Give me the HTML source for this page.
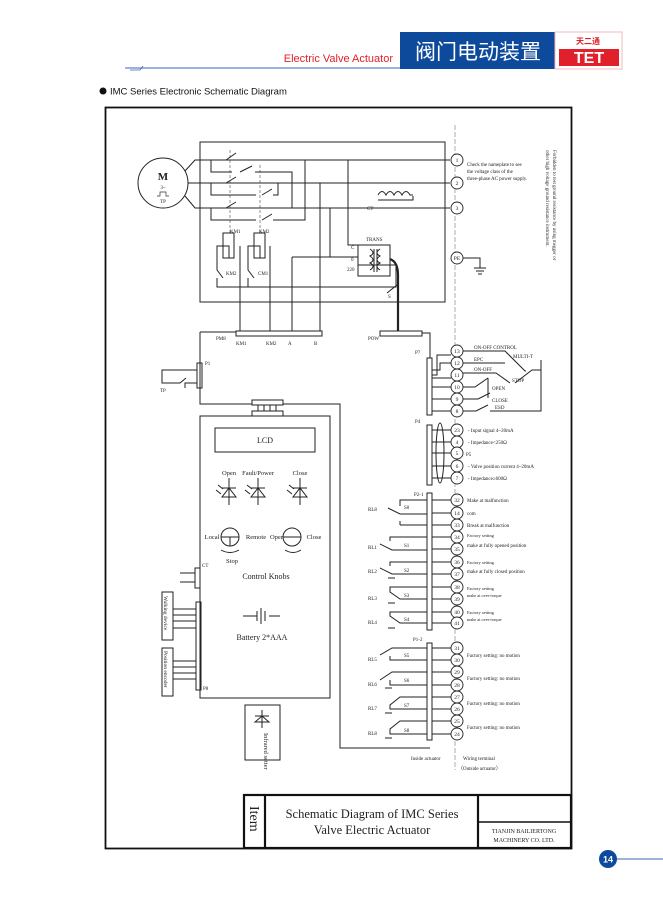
<!DOCTYPE html>
<html><head><meta charset="utf-8"><style>
html,body{margin:0;padding:0;background:#fff;}
svg{display:block}
text{font-family:"Liberation Serif",serif;fill:#222}
.s{font-family:"Liberation Sans","Noto Sans CJK SC",sans-serif}
</style></head><body>
<svg width="663" height="900" viewBox="0 0 663 900" xmlns="http://www.w3.org/2000/svg">
<line x1="125" y1="68" x2="400" y2="68" stroke="#3a66b0" stroke-width="1"/>
<path d="M130 70 L140 70 L143 66" stroke="#3a66b0" fill="none" stroke-width="0.8"/>
<text x="393" y="62" text-anchor="end" class="s" font-size="11" style="fill:#e0202a">Electric Valve Actuator</text>
<rect x="400" y="32" width="155" height="37" fill="#0d4a9c"/>
<text x="478" y="59" text-anchor="middle" class="s" font-size="21" style="fill:#fff">阀门电动装置</text>
<rect x="555" y="32" width="67" height="37" fill="#fff" stroke="#f2b9bd" stroke-width="1"/>
<text x="588" y="44" text-anchor="middle" class="s" font-size="8" font-weight="bold" style="fill:#e0202a">天二通</text>
<rect x="559" y="49" width="60" height="17" fill="#e0202a"/>
<text x="589" y="63" text-anchor="middle" class="s" font-size="16" font-weight="bold" style="fill:#fff">TET</text>
<circle cx="103" cy="91" r="3.5" fill="#111"/>
<text x="110" y="94.5" class="s" font-size="9.5" style="fill:#111">IMC Series Electronic Schematic Diagram</text>
<rect x="105.5" y="107.5" width="466" height="741" fill="none" stroke="#111" stroke-width="1.8"/>
<rect x="244" y="795" width="327" height="53" fill="none" stroke="#111" stroke-width="2.2"/>
<line x1="265" y1="795" x2="265" y2="848" stroke="#111" stroke-width="2.2"/>
<line x1="478" y1="795" x2="478" y2="848" stroke="#111" stroke-width="2.2"/>
<line x1="478" y1="822" x2="571" y2="822" stroke="#111" stroke-width="1.5"/>
<text transform="translate(250,806) rotate(90)" font-size="14">Item</text>
<text x="372" y="818" text-anchor="middle" font-size="12.5">Schematic Diagram of IMC Series</text>
<text x="372" y="834" text-anchor="middle" font-size="12.5">Valve Electric Actuator</text>
<text x="524" y="833" text-anchor="middle" font-size="6">TIANJIN BAILIERTONG</text>
<text x="524" y="842" text-anchor="middle" font-size="6">MACHINERY CO.   LTD.</text>
<circle cx="608" cy="859" r="9" fill="#0d4a9c"/>
<text x="608" y="862.5" text-anchor="middle" class="s" font-size="9" font-weight="bold" style="fill:#fff">14</text>
<line x1="617" y1="859" x2="663" y2="859" stroke="#3a66b0"/>

<g stroke="#222" stroke-width="1" fill="none">
<rect x="200" y="142" width="245" height="160"/>
<line x1="455" y1="125" x2="455" y2="770" stroke-dasharray="5,2" stroke="#777" stroke-width="0.6"/>
<circle cx="163" cy="183" r="25"/>
<path d="M185 171 L195 160 L450 160 M188 183 L450 183 M185 196 L195 208 L450 208"/>
<path d="M211 160 V172 H232 M240 172 L252 166 M255 172 H292 V208"/>
<path d="M211 183 V195 H256 M262 195 L272 189 M273 195 H278 V183"/>
<path d="M211 208 V220 H256 M262 220 L272 214 M273 220 H305 V160"/>
<path d="M226 160 L236 153 M226 183 L236 177 M226 208 L236 202"/>
<line x1="230" y1="150" x2="230" y2="233" stroke-dasharray="3,2" stroke-width="0.5"/>
<line x1="260" y1="165" x2="260" y2="233" stroke-dasharray="3,2" stroke-width="0.5"/>
<rect x="223" y="233" width="11" height="25"/><rect x="254" y="233" width="11" height="25"/>
<path d="M229 258 V246 H217 V270 L223 278 M217 278 V287 H396 V265 H358"/>
<path d="M240 246 V336 M260 258 V246 H248 V270 L254 278 M248 278 V287 M270 246 V336"/>
<path d="M348 160 V245 H358 M330 208 V257 H358 M320 183 V336 M292 257 H330 M292 257 V336"/>
<path d="M378 200 H413 V196 M378 195 Q382 188 386 195 Q390 188 394 195 Q398 188 402 195 Q406 188 410 195 L413 195"/>
<rect x="358" y="245" width="32" height="31"/>
<path d="M370 249 Q376 253 370 256 Q376 260 370 263 Q376 266 370 270 M380 249 Q374 253 380 256 Q374 260 380 263 Q374 266 380 270 M374 249 V272 M377 249 V272"/>
<path d="M390 259 Q398 262 398 275 V336" stroke-width="2.2"/>
<path d="M387 293 L397 285"/>
<path d="M462 258 H480 V268 M474 268 H486 M476 271 H484 M478 274 H482"/>
<rect x="236" y="331" width="86" height="5" fill="#fff"/>
<rect x="380" y="331" width="42" height="5" fill="#fff"/>
<path d="M200 332 H236 M422 333 H430 V358 M200 332 V404 H252 M283 404 H340 V748 H430"/>
<rect x="197" y="363" width="5" height="25"/>
<path d="M197 370 H162 V383 H180 L186 378 M185 388 V383 H197"/>
<rect x="252" y="400" width="31" height="5"/><rect x="252" y="411" width="31" height="5"/>
<path d="M258 405 V411 M264 405 V411 M270 405 V411 M276 405 V411"/>
<rect x="200" y="416" width="130" height="282"/>
<rect x="215" y="428" width="100" height="24"/>
<path d="M229 478 V505 M222 488 H236 M222 497 H236 L229 488 Z M258 478 V505 M251 488 H265 M251 497 H265 L258 488 Z M300 478 V505 M293 488 H307 M293 497 H307 L300 488 Z"/>
<path d="M218 485 L223 489 M216 490 L221 494 M247 485 L252 489 M245 490 L250 494 M289 485 L294 489 M287 490 L292 494"/>
<circle cx="230" cy="537" r="9"/><path d="M221 537 H239 M230 537 V546"/>
<circle cx="292" cy="537" r="9"/><path d="M283 537 H301"/>
<path d="M221 550 Q230 555 239 550 M285 550 Q293 555 301 550"/>
<rect x="195" y="568" width="5" height="20"/><path d="M180 573 H195 M180 582 H195"/>
<path d="M243 616 H257 M257 611 V621 M261 608 V624 M265 611 V621 M269 616 H280"/>
<rect x="196" y="602" width="5" height="88"/>
<rect x="162" y="592" width="11" height="48"/><rect x="162" y="648" width="11" height="48"/>
<path d="M173 609 H196 M173 615 H196 M173 621 H196 M173 628 H196 M173 661 H196 M173 667 H196 M173 673 H196 M173 679 H196"/>
<rect x="245" y="705" width="35" height="55"/>
<path d="M262 710 V728 M255 716 H269 M255 722 H269 L262 716 Z"/>
<rect x="427" y="358" width="5" height="57" fill="#fff"/>
<rect x="427" y="425" width="5" height="60" fill="#fff"/>
<rect x="427" y="493" width="5" height="137" fill="#fff"/>
<rect x="427" y="643" width="5" height="97" fill="#fff"/>
<path d="M432 375 H437 V355 H451 M432 370 H440 V363 H451 M432 378 H451 M432 387 H451 M432 399 H451 M432 411 H451"/>
<path d="M463 351 H505 L525 371 H526 M463 363 H505 M463 373 H496 L510 383 M515 383 L532 370 H541 M463 387 H475 L488 378 M488 378 L488 398 M463 399 H478 L490 393 M463 411 H476 L488 405 M490 411 H541 V360 M541 370 H536"/>
<path d="M432 430 H451 M432 442 H451 M432 453 H451 M432 466 H451 M432 478 H451"/>
<ellipse cx="440" cy="453" rx="4" ry="30"/>
<path d="M432 500 H451 M432 513 H451 M432 525 H451 M432 537 H451 M432 549 H451 M432 562 H451 M432 574 H451 M432 587 H451 M432 599 H451 M432 612 H451 M432 623 H451"/>
<path d="M432 648 H451 M432 660 H451 M432 672 H451 M432 685 H451 M432 697 H451 M432 709 H451 M432 721 H451 M432 734 H451"/>
<path d="M427 500 H400 V506 M388 508 L400 514 H427 M400 525 V521 M400 525 H427"/>
<path d="M427 537 H390 V541 M380 544 L392 550 H427 M427 562 H390 V566 M380 568 L392 574 H427 M427 587 H390 V592 L400 599 H427 M427 612 H390 V616 L400 623 H427"/>
<path d="M427 660 H390 V656 M380 655 L392 648 H427 M427 685 H390 V680 M380 680 L392 672 H427 M427 709 H390 V705 L400 697 H427 M427 734 H390 V729 L400 721 H427"/>
<path d="M388 578 H395 M388 603 H395 M388 628 H395 M385 688 H392 M385 713 H392 M385 738 H392"/>
</g>
<g fill="#fff" stroke="#222" stroke-width="0.9">
<circle cx="457" cy="160" r="6"/><circle cx="457" cy="183" r="6"/><circle cx="457" cy="208" r="6"/><circle cx="457" cy="258" r="6"/>
<circle cx="457" cy="351" r="6"/><circle cx="457" cy="363" r="6"/><circle cx="457" cy="375" r="6"/><circle cx="457" cy="387" r="6"/><circle cx="457" cy="399" r="6"/><circle cx="457" cy="411" r="6"/>
<circle cx="457" cy="430" r="6"/><circle cx="457" cy="442" r="6"/><circle cx="457" cy="453" r="6"/><circle cx="457" cy="466" r="6"/><circle cx="457" cy="478" r="6"/>
<circle cx="457" cy="500" r="6"/><circle cx="457" cy="513" r="6"/><circle cx="457" cy="525" r="6"/><circle cx="457" cy="537" r="6"/><circle cx="457" cy="549" r="6"/><circle cx="457" cy="562" r="6"/><circle cx="457" cy="574" r="6"/><circle cx="457" cy="587" r="6"/><circle cx="457" cy="599" r="6"/><circle cx="457" cy="612" r="6"/><circle cx="457" cy="623" r="6"/>
<circle cx="457" cy="648" r="6"/><circle cx="457" cy="660" r="6"/><circle cx="457" cy="672" r="6"/><circle cx="457" cy="685" r="6"/><circle cx="457" cy="697" r="6"/><circle cx="457" cy="709" r="6"/><circle cx="457" cy="721" r="6"/><circle cx="457" cy="734" r="6"/>
</g>
<g font-size="5.5" text-anchor="middle">
<text x="457" y="162">1</text><text x="457" y="185">2</text><text x="457" y="210">3</text><text x="457" y="260">PE</text>
<text x="457" y="353">13</text><text x="457" y="365">12</text><text x="457" y="377">11</text><text x="457" y="389">10</text><text x="457" y="401">9</text><text x="457" y="413">8</text>
<text x="457" y="432">23</text><text x="457" y="444">4</text><text x="457" y="455">5</text><text x="457" y="468">6</text><text x="457" y="480">7</text>
<text x="457" y="502">32</text><text x="457" y="515">14</text><text x="457" y="527">33</text><text x="457" y="539">34</text><text x="457" y="551">35</text><text x="457" y="564">36</text><text x="457" y="576">37</text><text x="457" y="589">38</text><text x="457" y="601">39</text><text x="457" y="614">40</text><text x="457" y="625">41</text>
<text x="457" y="650">31</text><text x="457" y="662">30</text><text x="457" y="674">29</text><text x="457" y="687">28</text><text x="457" y="699">27</text><text x="457" y="711">26</text><text x="457" y="723">25</text><text x="457" y="736">24</text>
</g>
<g font-size="5">
<text x="467" y="166">Check the nameplate to see</text><text x="467" y="173">the voltage class of the</text><text x="467" y="180">three-phase AC power supply.</text>
<text transform="translate(553,150) rotate(90)">Forbidden to test ground resistance by using megger or</text>
<text transform="translate(546,150) rotate(90)">other high voltage ground resistance instrument.</text>
<text x="474" y="349">ON-OFF CONTROL</text><text x="474" y="361">EPC</text><text x="513" y="358">MULTI-T</text>
<text x="474" y="371">ON-OFF</text><text x="512" y="382">STOP</text><text x="492" y="390">OPEN</text><text x="492" y="402">CLOSE</text><text x="495" y="409">ESD</text>
<text x="468" y="432">-   Input signal 4~20mA</text><text x="468" y="444">-      Impedance&lt;250Ω</text><text x="466" y="456">P5</text>
<text x="468" y="468">-   Valve position current 4~20mA</text><text x="468" y="480">-      Impedance≥600Ω</text>
<text x="467" y="502">Make at malfunction</text><text x="467" y="515">com</text><text x="467" y="527">Break at malfunction</text>
<text x="467" y="537" font-size="4.5">Factory setting</text><text x="467" y="547">make at fully opened position</text>
<text x="467" y="564" font-size="4.5">Factory setting</text><text x="467" y="573">make at fully closed position</text>
<text x="467" y="590" font-size="4.5">Factory setting</text><text x="467" y="597" font-size="4.3">make at over-torque</text>
<text x="467" y="614" font-size="4.5">Factory setting</text><text x="467" y="621" font-size="4.3">make at over-torque</text>
<text x="467" y="657">Factory setting: no motion</text><text x="467" y="680">Factory setting: no motion</text><text x="467" y="705">Factory setting: no motion</text><text x="467" y="729">Factory setting: no motion</text>
<text x="411" y="760">Inside actuator</text><text x="463" y="760">Wiring terminal</text><text x="458" y="770">（Outside actuator）</text>
<text x="415" y="354">P7</text><text x="415" y="423">P4</text><text x="414" y="496">P2-1</text><text x="413" y="641">P1-2</text>
<text x="368" y="511">RL8</text><text x="404" y="509">S0</text>
<text x="368" y="549">RL1</text><text x="404" y="547">S1</text><text x="368" y="573">RL2</text><text x="404" y="572">S2</text>
<text x="368" y="600">RL3</text><text x="404" y="597">S3</text><text x="368" y="624">RL4</text><text x="404" y="621">S4</text>
<text x="368" y="661">RL5</text><text x="404" y="657">S5</text><text x="368" y="686">RL6</text><text x="404" y="682">S6</text>
<text x="368" y="710">RL7</text><text x="404" y="707">S7</text><text x="368" y="735">RL8</text><text x="404" y="732">S8</text>
<text x="367" y="210">CT</text><text x="366" y="241">TRANS</text><text x="351" y="249">C</text><text x="351" y="261">0</text><text x="347" y="271">220</text><text x="388" y="298">S</text>
<text x="230" y="233">KM1</text><text x="259" y="233">KM2</text><text x="226" y="275">KM2</text><text x="258" y="275">CM1</text>
<text x="216" y="340">PM8</text><text x="236" y="345">KM1</text><text x="266" y="345">KM2</text><text x="288" y="345">A</text><text x="314" y="345">B</text><text x="368" y="340">POW</text>
<text x="205" y="365">P1</text><text x="160" y="392">TP</text><text x="202" y="567">CT</text><text x="203" y="690">P8</text>
</g>
<text x="163" y="180" font-size="11" text-anchor="middle" font-weight="bold">M</text>
<text x="163" y="189" font-size="5" text-anchor="middle">3~</text>
<path d="M157 196 H160 V192 H166 V196 H169" stroke="#333" fill="none" stroke-width="0.7"/>
<text x="163" y="203" font-size="5" text-anchor="middle">TP</text>
<g font-size="6.5" text-anchor="middle">
<text x="265" y="443" font-size="8">LCD</text>
<text x="229" y="475">Open</text><text x="258" y="475">Fault/Power</text><text x="300" y="475">Close</text>
<text x="212" y="539">Local</text><text x="256" y="539">Remote</text><text x="277" y="539">Open</text><text x="314" y="539">Close</text>
<text x="232" y="563">Stop</text><text x="266" y="579" font-size="8">Control Knobs</text><text x="262" y="640" font-size="8">Battery 2*AAA</text>
</g>
<text transform="translate(164,596) rotate(90)" font-size="5.5">Walking device</text>
<text transform="translate(164,651) rotate(90)" font-size="5.5">Position encoder</text>
<text transform="translate(264,733) rotate(90)" font-size="6.5">Infrared setter</text>
</svg>
</body></html>
